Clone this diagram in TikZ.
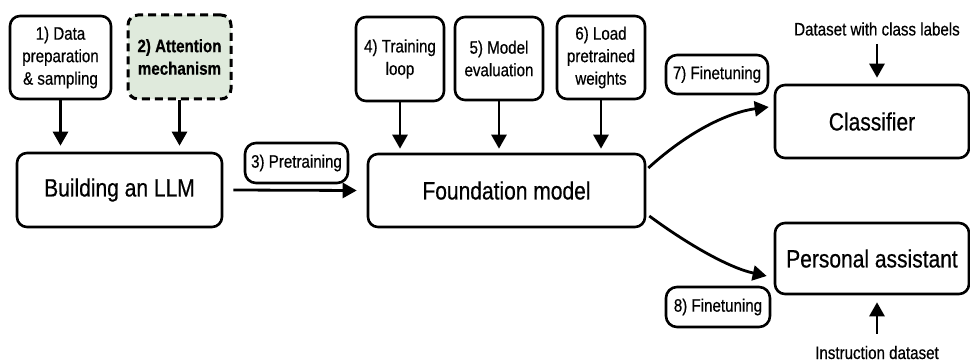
\documentclass[tikz,border=0pt]{standalone}
\usepackage{fontspec}
\setmainfont{Liberation Sans}[FakeStretch=0.84, FakeBold=0.6]
\usetikzlibrary{arrows.meta,calc}
\definecolor{attgreen}{HTML}{DFEADC}
\tikzset{
  box/.style={draw=black, line width=2.6pt, rounded corners=10pt, align=center, inner sep=0pt, font=\fontsize{18}{22.5}\selectfont},
  bigbox/.style={box, font=\fontsize{25}{28}\selectfont},
  tag/.style={box, rounded corners=11pt},
  arr/.style={line width=2.8pt, -{Triangle[width=15pt,length=14pt]}},
  lbl/.style={font=\fontsize{18}{22}\selectfont, inner sep=0pt}
}
\begin{document}
\begin{tikzpicture}[x=1pt,y=-1pt]
\useasboundingbox (0,0) rectangle (970,361);
% top boxes
\node[box, minimum width=101pt, minimum height=83pt] (b1) at (60.5,57.5) {1) Data\\preparation\\\& sampling};
\node[box, fill=attgreen, dashed, dash pattern=on 8pt off 5pt, line width=3pt, minimum width=103pt, minimum height=84pt] (b2) at (179.5,57) {\textbf{2) Attention}\\\textbf{mechanism}};
\node[bigbox, minimum width=205pt, minimum height=74pt] (llm) at (119.5,190) {Building an LLM};
\node[tag, minimum width=103pt, minimum height=40pt] (pre) at (296.5,163) {3) Pretraining};
\node[bigbox, minimum width=277pt, minimum height=73pt] (fm) at (506.5,190.5) {Foundation model};
\node[box, minimum width=88pt, minimum height=84pt] (b4) at (400,59) {4) Training\\loop};
\node[box, minimum width=88pt, minimum height=83pt] (b5) at (499,58.5) {5) Model\\evaluation};
\node[box, minimum width=88pt, minimum height=83pt] (b6) at (601,57.5) {6) Load\\pretrained\\weights};
\node[tag, minimum width=102pt, minimum height=39pt] (ft7) at (717,74.5) {7) Finetuning};
\node[bigbox, minimum width=194pt, minimum height=73pt] (cls) at (872,121.5) {Classifier};
\node[bigbox, minimum width=194pt, minimum height=71pt] (pa) at (872,258.5) {Personal assistant};
\node[tag, minimum width=104pt, minimum height=40pt] (ft8) at (718,307) {8) Finetuning};
\node[lbl] (dcl) at (877,29) {Dataset with class labels};
\node[lbl, anchor=base] (ids) at (877,359) {Instruction dataset};
% arrows
\draw[arr] (b1.south) -- ([yshift=6]llm.north -| b1.south);
\draw[arr] (b2.south) -- ([yshift=6]llm.north -| b2.south);
\draw[arr] ([xshift=10]llm.east) -- ([xshift=-10]fm.west);
\draw[arr] (b4.south) -- ([yshift=4]fm.north -| b4.south);
\draw[arr] (b5.south) -- ([yshift=4]fm.north -| b5.south);
\draw[arr] (b6.south) -- ([yshift=4]fm.north -| b6.south);
\draw[arr] ([yshift=-8]dcl.south) -- ([yshift=6]cls.north -| dcl.south);
\draw[arr] ([yshift=12]ids.north) -- ([yshift=-7]pa.south -| ids.north);
\draw[arr] ([shift={(2,-22.5)}]fm.east) .. controls (690,130) and (730,112) .. ([shift={(-5,-14.5)}]cls.west);
\draw[arr] ([shift={(3,25.5)}]fm.east) .. controls (690,246) and (730,268) .. ([shift={(-7,17.5)}]pa.west);
\end{tikzpicture}
\end{document}
